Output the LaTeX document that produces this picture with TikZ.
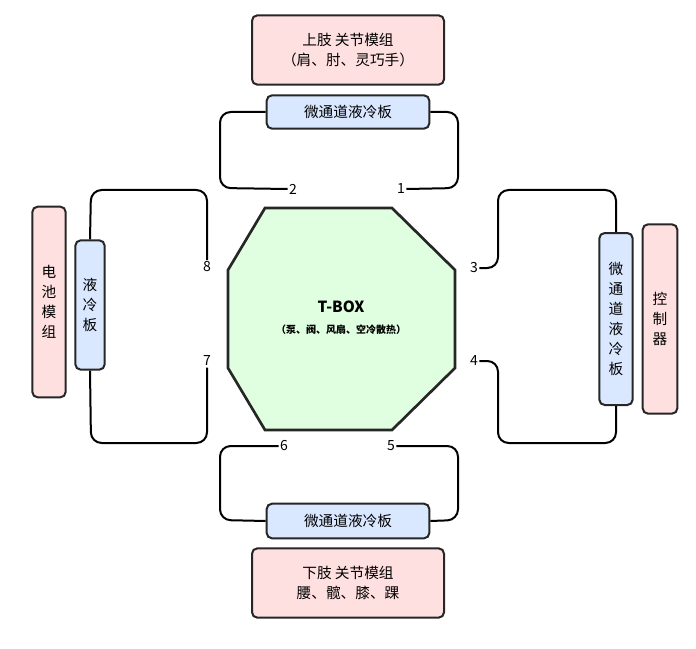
\documentclass[tikz,border=0pt]{standalone}
\usepackage{fontspec}
\setmainfont{Noto Sans CJK SC}
\begin{document}
\begin{tikzpicture}[x=0.75pt, y=-0.75pt, font=\fontsize{11}{15}\selectfont,
	box/.style={draw=black!85, line width=1.5pt, rounded corners=4pt, inner sep=0pt, align=center},
	joint/.style={box, fill=red!12},
	plate/.style={box, fill=blue!60!cyan!15},
	num/.style={inner sep=1pt, font=\fontsize{10.5}{12}\selectfont},
	pipe/.style={line width=1.5pt, rounded corners=8pt}]
	\useasboundingbox (0,0) rectangle (696,649);
	%octagon
	\draw[line width=2pt, fill=green!12, draw=black!85]
	(265,208) -- (392,208) -- (455,270) -- (455,368) -- (392,430) -- (265,430) -- (228,368) -- (228,270) -- cycle;
	\node[font=\bfseries\fontsize{11.5}{14}\selectfont] (tbox) at (341,307) {T-BOX};
	\node[font=\bfseries\fontsize{7.5}{9}\selectfont] (tboxsub) at (341,330) {（泵、阀、风扇、空冷散热）};
	%top
	\node[joint, minimum width=144pt, minimum height=52pt] (upper) at (348,50) {上肢 关节模组\\（肩、肘、灵巧手）};
	\node[plate, minimum width=122pt, minimum height=25pt] (ptop) at (348,112) {微通道液冷板};
	%bottom
	\node[plate, minimum width=122pt, minimum height=26pt] (pbot) at (348,521) {微通道液冷板};
	\node[joint, minimum width=144pt, minimum height=52pt] (lower) at (348,583) {下肢 关节模组\\腰、髋、膝、踝};
	%right
	\node[plate, minimum width=25pt, minimum height=129pt] (pright) at (616,319) {微\\通\\道\\液\\冷\\板};
	\node[joint, minimum width=26pt, minimum height=142pt] (ctrl) at (660,319) {控\\制\\器};
	%left
	\node[joint, minimum width=25pt, minimum height=143pt] (battery) at (49,302) {电\\池\\模\\组};
	\node[plate, minimum width=22pt, minimum height=97pt] (pleft) at (90,305) {液\\冷\\板};
	%numbers
	\node[num] (n1) at (401,189) {1};
	\node[num] (n2) at (293,189) {2};
	\node[num] (n3) at (474,268) {3};
	\node[num] (n4) at (474,361) {4};
	\node[num] (n5) at (391,446) {5};
	\node[num] (n6) at (284,446) {6};
	\node[num] (n7) at (207,361) {7};
	\node[num] (n8) at (207,267) {8};
	%pipes
	\draw[pipe] (ptop.west) -- (220,112) -- (220,188) -- (n2.west);
	\draw[pipe] (ptop.east) -- (458,112) -- (458,188) -- (n1.east);
	\draw[pipe] (pbot.west) -- (220,520) -- (220,446) -- (n6.west);
	\draw[pipe] (pbot.east) -- (458,520) -- (458,446) -- (n5.east);
	\draw[pipe] (n3.east) -- (498,268) -- (498,190) -- (616,190) -- (pright.north);
	\draw[pipe] (n4.east) -- (498,361) -- (498,443) -- (616,443) -- (pright.south);
	\draw[pipe] (pleft.north) -- (91,190) -- (207,190) -- (n8.north);
	\draw[pipe] (pleft.south) -- (91,443) -- (207,443) -- (n7.south);
\end{tikzpicture}
\end{document}
